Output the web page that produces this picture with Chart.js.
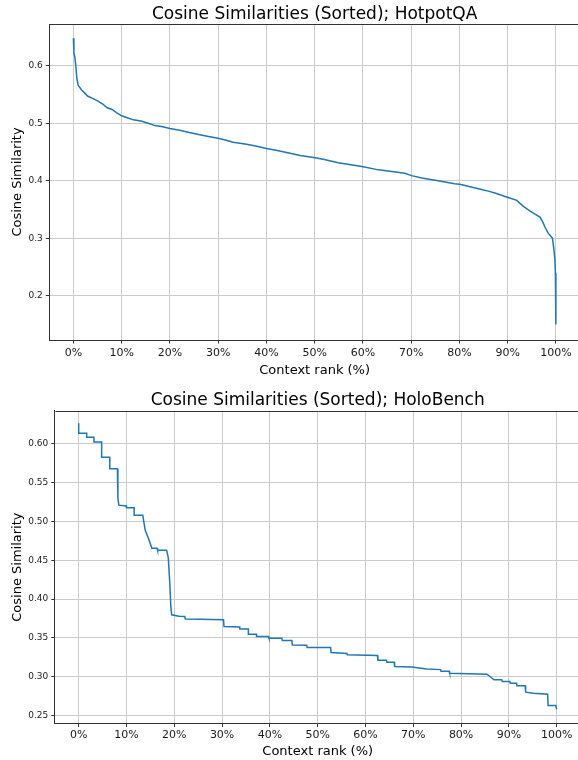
<!DOCTYPE html>
<html><head><meta charset="utf-8">
<script src="https://cdn.jsdelivr.net/npm/chart.js@4.4.1/dist/chart.umd.min.js"></script>
<style>
html,body{margin:0;padding:0;background:#fff;overflow:hidden;width:578px;height:760px;position:relative;}
canvas{position:absolute;left:0;}
#c1{top:0;} #c2{top:380px;}
</style></head><body>
<canvas id="c1" width="600" height="380"></canvas>
<canvas id="c2" width="600" height="380"></canvas>
<script>
// ---- data ----
const xTickValues = [0,10,20,30,40,50,60,70,80,90,100];
const xAxisTitle = 'Context rank (%)';
const yAxisTitle = 'Cosine Similarity';

const hotpotTitle = 'Cosine Similarities (Sorted); HotpotQA';
const hotpotYTicks = [0.2,0.3,0.4,0.5,0.6];
const hotpotX = [0,0.1,0.3,0.5,0.7,1.0,1.7,2.4,3.0,4.1,5.0,6.0,7.0,8.0,9.0,10.0,11.0,12.4,14.0,15.5,16.9,18.5,20.0,22.0,24.0,26.2,28.0,30.0,31.5,33.1,35.9,38.0,40.0,42.0,44.9,47.0,50.1,52.0,54.9,57.5,60.1,63.2,66.0,68.7,70.1,72.2,75.0,77.0,79.0,80.1,82.0,84.6,86.0,87.7,89.0,90.1,91.9,93.2,94.5,95.5,96.7,97.3,97.7,98.4,99.0,99.3,99.6,99.8,99.9,100];
const hotpotY = [0.648,0.622,0.615,0.600,0.578,0.566,0.558,0.552,0.547,0.543,0.539,0.534,0.527,0.524,0.518,0.513,0.510,0.506,0.504,0.500,0.496,0.494,0.491,0.488,0.484,0.480,0.477,0.474,0.471,0.467,0.4635,0.460,0.456,0.453,0.448,0.444,0.440,0.437,0.4315,0.428,0.4245,0.419,0.416,0.413,0.409,0.405,0.401,0.398,0.395,0.394,0.390,0.385,0.382,0.378,0.374,0.371,0.366,0.356,0.348,0.343,0.337,0.328,0.320,0.309,0.303,0.300,0.280,0.262,0.240,0.150];

const holoTitle = 'Cosine Similarities (Sorted); HoloBench';
const holoYTicks = [0.25,0.30,0.35,0.40,0.45,0.50,0.55,0.60];
const holoX = [0,0,1.67,1.67,3.2,3.2,4.8,4.8,6.5,6.5,8.1,8.2,8.4,10.0,10.0,11.6,11.6,13.4,13.9,14.6,15.3,16.4,16.5,18.4,18.75,19.1,19.25,19.45,21.0,22.2,22.3,25.4,30.3,30.4,33.7,33.7,35.5,35.5,37.2,37.2,39.7,39.8,42.5,42.6,44.6,44.7,47.7,47.8,52.7,52.8,56.1,56.2,62.5,62.6,64.4,64.5,66.0,66.1,69.7,72.8,75.7,75.8,77.5,77.6,85.4,86.1,86.9,88.5,88.6,90.2,90.3,91.6,91.7,93.4,93.5,95.1,98.1,98.2,99.8,100];
const holoY = [0.6265,0.6136,0.6136,0.6085,0.6085,0.6024,0.6024,0.5827,0.5827,0.5677,0.5677,0.530,0.521,0.520,0.5175,0.5175,0.508,0.508,0.489,0.478,0.4655,0.4655,0.463,0.463,0.4527,0.416,0.3925,0.3797,0.378,0.3775,0.3745,0.374,0.3735,0.3646,0.364,0.3616,0.3616,0.3548,0.3548,0.3517,0.3517,0.3497,0.3497,0.3466,0.3466,0.341,0.3405,0.3376,0.3376,0.3311,0.330,0.3282,0.3275,0.3213,0.3213,0.3188,0.3188,0.3131,0.3125,0.3101,0.3092,0.3072,0.3072,0.3046,0.3033,0.300,0.296,0.296,0.2939,0.2939,0.2917,0.2917,0.2883,0.2883,0.2801,0.2788,0.2775,0.2629,0.2629,0.2582];

// ---- rendering ----
const FONT = "'DejaVu Sans', 'Liberation Sans', sans-serif";
const LINE = '#1f77b4';
const GRID = '#cbcbcb';
const SPINE = '#333333';

const framePlugin = {
  id: 'frame',
  afterDatasetsDraw(chart) {
    const {ctx, chartArea: a} = chart;
    ctx.save();
    ctx.strokeStyle = SPINE; ctx.lineWidth = 1;
    ctx.beginPath();
    ctx.moveTo(Math.round(a.left) + 0.5, Math.round(a.top) + 0.5);
    ctx.lineTo(Math.round(a.right) + 0.5, Math.round(a.top) + 0.5);
    ctx.lineTo(Math.round(a.right) + 0.5, Math.round(a.bottom) + 0.5);
    ctx.stroke();
    ctx.restore();
  }
};

function makeChart(id, g) {
  const pts = g.xs.map((x, i) => ({x: x, y: g.ys[i]}));
  return new Chart(document.getElementById(id), {
    type: 'line',
    data: { datasets: [{ data: pts, borderColor: LINE, borderWidth: 1.5, pointRadius: 0, tension: 0, fill: false }] },
    options: {
      responsive: false, animation: false, devicePixelRatio: 1,
      layout: { padding: { left: 0, right: g.padRight, top: 0, bottom: 0 } },
      plugins: {
        legend: { display: false }, tooltip: { enabled: false },
        title: { display: true, text: g.title, fullSize: false, color: '#000',
                 font: { family: FONT, size: 17, weight: 'normal', lineHeight: 1 },
                 padding: { top: g.titleTop, bottom: g.titleBottom } }
      },
      scales: {
        x: {
          type: 'linear', min: -5, max: 105,
          afterBuildTicks: s => { s.ticks = xTickValues.map(v => ({value: v})); },
          afterFit: s => { s.height = g.xHeight; },
          ticks: { callback: v => v + '%', color: '#1a1a1a', font: { family: FONT, size: 11 }, padding: g.xTickPad, maxRotation: 0, autoSkip: false },
          grid: { color: GRID, lineWidth: 1, tickLength: 3.5, tickColor: SPINE, tickWidth: 1 },
          border: { display: true, color: SPINE, width: 1 },
          title: { display: true, text: xAxisTitle, color: '#000', font: { family: FONT, size: 13 }, padding: { top: 0, bottom: g.xTitleBottom } }
        },
        y: {
          type: 'linear', min: g.yMin, max: g.yMax,
          afterBuildTicks: s => { s.ticks = g.yTicks.map(v => ({value: v})); },
          afterFit: s => { s.width = g.yWidth; },
          ticks: { callback: v => Number(v).toFixed(g.dec), color: '#1a1a1a', font: { family: FONT, size: 9 }, padding: 3, autoSkip: false },
          grid: { color: GRID, lineWidth: 1, tickLength: 3.5, tickColor: SPINE, tickWidth: 1 },
          border: { display: true, color: SPINE, width: 1 },
          title: { display: true, text: yAxisTitle, color: '#000', font: { family: FONT, size: 13 }, padding: { top: 9.7, bottom: 0 } }
        }
      }
    },
    plugins: [framePlugin]
  });
}

makeChart('c1', { xs: hotpotX, ys: hotpotY, title: hotpotTitle, yTicks: hotpotYTicks, dec: 1,
  yMin: 0.1231, yMax: 0.6727, yWidth: 49.3, xHeight: 40, padRight: 20,
  titleTop: 6, titleBottom: 1, xTickPad: 2.7, xTitleBottom: 1.7 });

makeChart('c2', { xs: holoX, ys: holoY, title: holoTitle, yTicks: holoYTicks, dec: 2,
  yMin: 0.2398, yMax: 0.6426, yWidth: 54.8, xHeight: 36.5, padRight: 19.4,
  titleTop: 12.2, titleBottom: 1.5, xTickPad: 1.8, xTitleBottom: 0.6 });
</script>
</body></html>
